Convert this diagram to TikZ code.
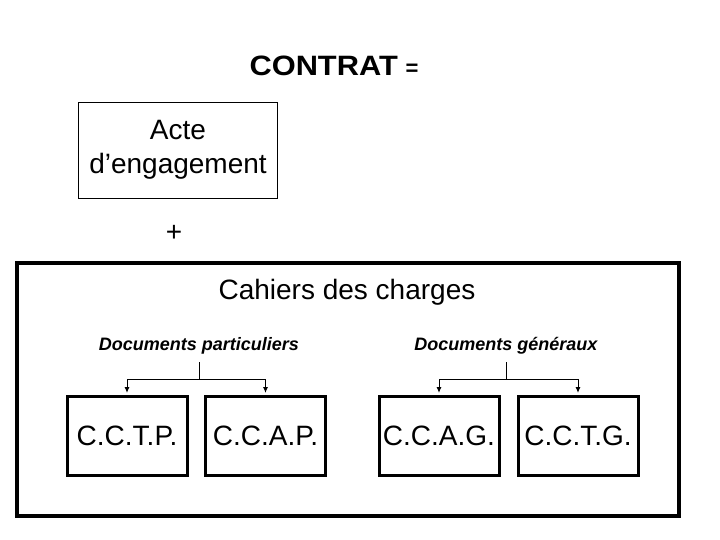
\documentclass[tikz,border=0pt]{standalone}
\usepackage{fontspec}
\setmainfont{Liberation Sans}
\usetikzlibrary{arrows.meta}
\begin{document}
\begin{tikzpicture}[x=1pt,y=-1pt,
  big/.style={font=\fontsize{28}{34}\selectfont},
  docbox/.style={draw,line width=3pt,minimum width=120pt,minimum height=79pt,inner sep=0pt,big},
  doclabel/.style={font=\fontsize{18}{21}\selectfont\bfseries\itshape,inner sep=0pt},
  conn/.style={line width=1pt},
  arr/.style={conn,-{Latex[length=6pt,width=5pt]},shorten >=1.5pt}]
\useasboundingbox (0,0) rectangle (720,540);
\node[font=\fontsize{28}{32}\selectfont\bfseries,inner sep=0pt] (title) at (334,66) {\scalebox{1.1}[1]{CONTRAT} \fontsize{22}{26}\selectfont =};
\node[draw,line width=0.8pt,minimum width=199pt,minimum height=96pt,align=center,big,inner sep=0pt] (acte) at (178,150) {Acte\\d’engagement};
\node[big,inner sep=0pt] (plus) at (174,233) {+};
\node[draw,line width=4pt,minimum width=662pt,minimum height=253pt,inner sep=0pt] (cdc) at (348,389.5) {};
\node[big,inner sep=0pt] (cdct) at (347,292) {Cahiers des charges};
\node[doclabel] (dp) at (199,346) {Documents particuliers};
\node[doclabel] (dg) at (506,346) {Documents généraux};
\node[docbox] (cctp) at (127,435.5) {C.C.T.P.};
\node[docbox] (ccap) at (265.5,435.5) {C.C.A.P.};
\node[docbox] (ccag) at (439,435.5) {C.C.A.G.};
\node[docbox] (cctg) at (578,435.5) {C.C.T.G.};
\coordinate (s1) at (199,362);
\coordinate (j1) at (199,379);
\coordinate (s2) at (506,362);
\coordinate (j2) at (506,379);
\draw[conn] (s1) -- (j1);
\draw[conn] (s2) -- (j2);
\draw[arr] (j1) -| (cctp.north);
\draw[arr] (j1) -| (ccap.north);
\draw[arr] (j2) -| (ccag.north);
\draw[arr] (j2) -| (cctg.north);
\end{tikzpicture}
\end{document}
